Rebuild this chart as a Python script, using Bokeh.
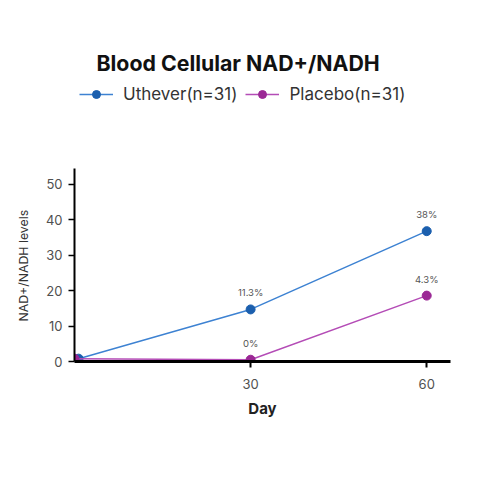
from bokeh.plotting import figure
from bokeh.models import Legend, LegendItem, ColumnDataSource, FixedTicker, LinearAxis, Title
from bokeh.embed import file_html
from bokeh.resources import INLINE

# ---- data ----
days_uthever = [0.7, 30, 60]
uthever = [0.8, 14.7, 36.8]
uthever_pct = ["", "11.3%", "38%"]

days_placebo = [0, 30, 60]
placebo = [0.8, 0.5, 18.6]
placebo_pct = ["", "0%", "4.3%"]

x_ticks = [30, 60]
y_ticks = [0, 10, 20, 30, 40, 50]

BLUE_DOT, BLUE_LINE = "#1b5fae", "#3d82d2"
PURP_DOT, PURP_LINE = "#9b2895", "#b44cb6"
FONT = "Inter"

src_u = ColumnDataSource(dict(x=days_uthever, y=uthever, pct=uthever_pct))
src_p = ColumnDataSource(dict(x=days_placebo, y=placebo, pct=placebo_pct))

p = figure(
    width=464, height=464,
    x_range=(0, 64.05), y_range=(0, 79.9),
    output_backend="svg", toolbar_location=None,
    min_border_left=74, min_border_right=14,
    min_border_top=78, min_border_bottom=103,
    x_axis_location=None, y_axis_location=None,
)
p.outline_line_color = None
p.grid.visible = False

# title
p.title.text = "Blood Cellular NAD+/NADH"
p.title.text_font = FONT
p.title.text_font_size = "21.3px"
p.title.text_font_style = "bold"
p.title.text_color = "#111111"
p.title.align = "left"
p.title.offset = 22
p.title.standoff = 5

# axes
xax = LinearAxis(ticker=FixedTicker(ticks=x_ticks))
xax.axis_label = "Day"
yax = LinearAxis(ticker=FixedTicker(ticks=y_ticks), bounds=(0, 54.5))
for ax in (xax, yax):
    ax.axis_line_color = "black"
    ax.major_tick_line_color = "black"
    ax.major_tick_in = 0
    ax.major_tick_out = 6
    ax.minor_tick_line_color = None
    ax.major_label_text_font = FONT
    ax.major_label_text_font_size = "13px"
    ax.major_label_text_color = "#505050"
    ax.axis_label_text_font = FONT
xax.axis_line_width = 3
xax.major_tick_line_width = 2
xax.major_label_standoff = 11
xax.axis_label_text_font_size = "15px"
xax.axis_label_text_font_style = "bold"
xax.axis_label_text_color = "#222222"
xax.axis_label_standoff = 7
yax.axis_line_width = 2
yax.major_tick_line_width = 1.5
yax.major_label_standoff = 6
p.add_layout(xax, "below")
p.add_layout(yax, "left")

# y axis title, centred on the drawn part of the axis rather than the frame
p.add_layout(Title(
    text="NAD+/NADH levels", align="left", offset=40, standoff=23,
    text_font=FONT, text_font_size="12.3px", text_font_style="normal",
    text_color="#333333",
), "left")

# series
lu = p.line("x", "y", source=src_u, line_color=BLUE_LINE, line_width=1.5)
su = p.scatter("x", "y", source=src_u, size=9, fill_color=BLUE_DOT, line_color=BLUE_DOT)
lp = p.line("x", "y", source=src_p, line_color=PURP_LINE, line_width=1.5)
sp = p.scatter("x", "y", source=src_p, size=9, fill_color=PURP_DOT, line_color=PURP_DOT)

for src in (src_u, src_p):
    p.text("x", "y", text="pct", source=src, y_offset=-11,
           text_align="center", text_baseline="bottom",
           text_font_size="9.5px", text_color="#555555", text_font={"value": FONT})

legend = Legend(
    items=[
        LegendItem(label="Uthever(n=31)", renderers=[lu, su]),
        LegendItem(label="Placebo(n=31)", renderers=[lp, sp]),
    ],
    orientation="horizontal",
    location=(5, 257),
    border_line_color=None,
    background_fill_alpha=0,
    padding=5, margin=0,
    glyph_width=34, spacing=8, label_standoff=10,
    label_text_font=FONT, label_text_font_size="17px", label_text_color="#333333",
)
p.add_layout(legend, "center")

open("out.html", "w").write(file_html(p, INLINE))
